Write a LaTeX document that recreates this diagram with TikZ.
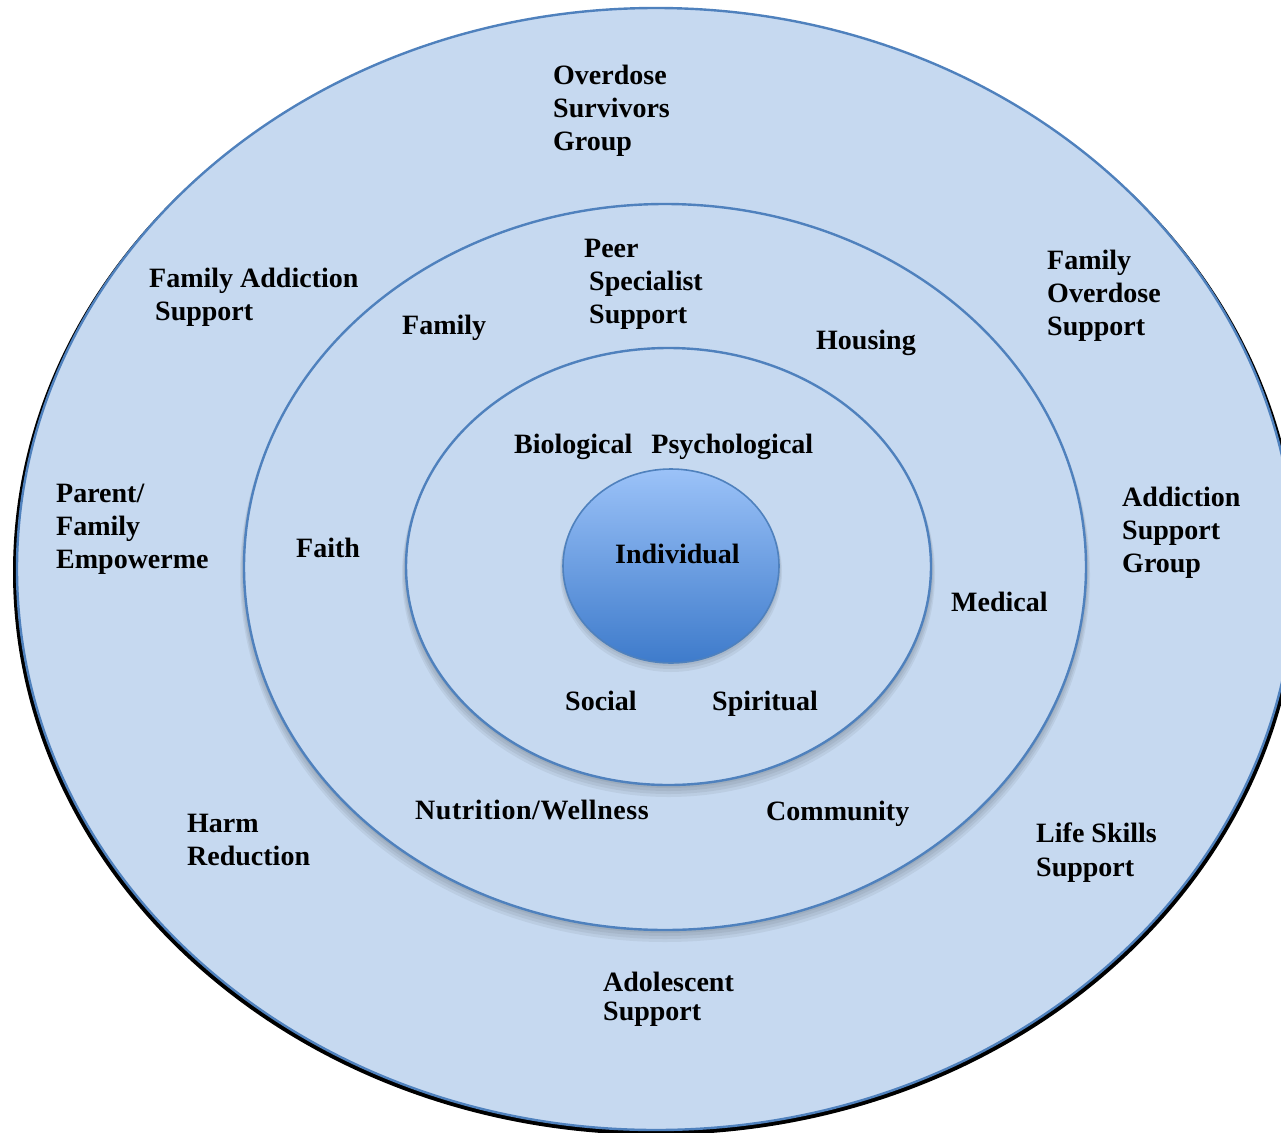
\documentclass[tikz,border=0pt]{standalone}
\usepackage{fontspec}
\setmainfont{Liberation Serif}
\definecolor{ringfill}{HTML}{C6D9F0}
\definecolor{ringline}{HTML}{4F81BD}
\definecolor{indtop}{HTML}{9BC2F8}
\definecolor{indbot}{HTML}{3E7BCB}
\begin{document}
\begin{tikzpicture}[x=1pt,y=-1pt,
  ring/.style={fill=ringfill, draw=ringline, line width=2.4pt},
  softshadow/.style={fill=black, opacity=0.055},
  lbl/.style={anchor=north west, inner sep=0pt, align=left,
    font=\bfseries\fontsize{28}{33}\selectfont}]
\useasboundingbox (0,0) rectangle (1281,1132);
% outer ring with hard black shadow
\fill[black] (656,572) ellipse [x radius=643, y radius=563];
\path[ring] (656,569) ellipse [x radius=639, y radius=561];
% middle ring with soft shadow
\foreach \d in {2,4,6,8}{
  \fill[softshadow] (665,{567+\d}) ellipse [x radius={421+\d/2}, y radius={363+\d/2}];
}
\path[ring] (665,567) ellipse [x radius=421, y radius=363];
% inner ring with soft shadow
\foreach \d in {2,4,6,8}{
  \fill[softshadow] (668.5,{566.5+\d}) ellipse [x radius={262.5+\d/2}, y radius={218.5+\d/2}];
}
\path[ring] (668.5,566.5) ellipse [x radius=262.5, y radius=218.5];
% individual core
\foreach \d in {2,4,6}{
  \fill[softshadow] (671,{566+\d}) ellipse [x radius={108+\d/2}, y radius={97+\d/2}];
}
\path[top color=indtop, bottom color=indbot, draw=ringline, line width=1.6pt]
  (671,566) ellipse [x radius=108, y radius=97];

% outer ring labels
\node[lbl] (overdosesurv) at (553,65.1) {Overdose\\Survivors\\Group};
\node[lbl] (famaddict) at (149,268.1) {Family Addiction\\\hspace*{6pt}Support};
\node[lbl] (famoverdose) at (1047,250.1) {Family\\Overdose\\Support};
\node[lbl] (parentfam) at (56,484.1) {Parent/\\Family\\Empowerme};
\node[lbl] (addictgroup) at (1122,487.1) {Addiction\\Support\\Group};
\node[lbl] (harm) at (187,814.1) {Harm\\Reduction};
\node[lbl] (lifeskills) at (1036,822.1) {Life Skills\\[1pt]Support};
\node[lbl] (adolescent) at (603,972.1) {Adolescent\\[-4pt]Support};
% middle ring labels
\node[lbl] (family) at (402,315.1) {Family};
\node[lbl] (peer) at (584,239.1) {Peer\\\hspace*{5pt}Specialist\\\hspace*{5pt}Support};
\node[lbl] (housing) at (816,330.1) {Housing};
\node[lbl] (faith) at (296,538.1) {Faith};
\node[lbl] (medical) at (951,592.1) {Medical};
\node[lbl] (nutrition) at (415,800.1) {\addfontfeatures{LetterSpace=2}Nutrition/Wellness};
\node[lbl] (community) at (766,801.1) {Community};
% inner ring labels
\node[lbl] (biopsy) at (514,434.1) {Biological\hspace{19pt}Psychological};
\node[lbl] (social) at (565,691.1) {Social};
\node[lbl] (spiritual) at (712,691.1) {Spiritual};
% core label
\node[lbl] (individual) at (615,544.1) {Individual};
\end{tikzpicture}
\end{document}
